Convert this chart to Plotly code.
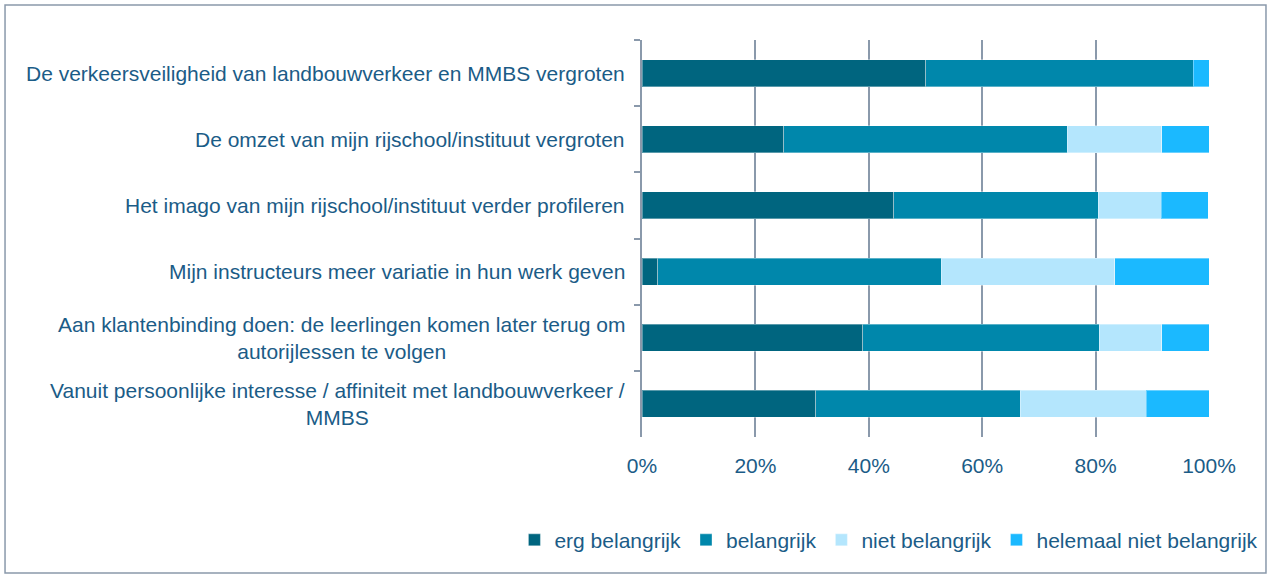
import plotly.graph_objects as go

categories = [
    "De verkeersveiligheid van landbouwverkeer en MMBS vergroten",
    "De omzet van mijn rijschool/instituut vergroten",
    "Het imago van mijn rijschool/instituut verder profileren",
    "Mijn instructeurs meer variatie in hun werk geven",
    "Aan klantenbinding doen: de leerlingen komen later terug om<br>autorijlessen te volgen",
    "Vanuit persoonlijke interesse / affiniteit met landbouwverkeer /<br>MMBS",
]
category_keys = ["c1", "c2", "c3", "c4", "c5", "c6"]

series_names = ["erg belangrijk", "belangrijk", "niet belangrijk", "helemaal niet belangrijk"]
erg_belangrijk = [50.0, 25.0, 44.4, 2.8, 38.9, 30.6]
belangrijk = [47.2, 50.0, 36.1, 50.0, 41.7, 36.1]
niet_belangrijk = [0.0, 16.7, 11.1, 30.6, 11.1, 22.2]
helemaal_niet_belangrijk = [2.8, 8.3, 8.3, 16.7, 8.3, 11.1]

tick_values = [0, 20, 40, 60, 80, 100]
tick_labels = ["0%", "20%", "40%", "60%", "80%", "100%"]

colors = ["#00657F", "#0087AB", "#B4E6FD", "#1BB9FF"]
text_color = "#1B5C87"
grid_color = "#8A99AB"
font_size = 21

fig = go.Figure()
for name, vals, col in zip(series_names,
                           [erg_belangrijk, belangrijk, niet_belangrijk, helemaal_niet_belangrijk],
                           colors):
    fig.add_trace(go.Bar(
        y=category_keys, x=vals, name=name, orientation="h",
        marker=dict(color=col, line=dict(color="rgba(255,255,255,0.35)", width=1)),
    ))

# category labels, right-aligned block with centred lines
for key, label in zip(category_keys, categories):
    fig.add_annotation(
        x=-0.026, xref="paper", y=key, yref="y",
        text=label, showarrow=False, xanchor="right", yanchor="middle",
        align="center", font=dict(size=font_size, color=text_color),
    )

# outer frame
fig.add_shape(type="rect", xref="paper", yref="paper",
              x0=-1.1234, x1=1.1005, y0=-0.3426, y1=1.0882,
              line=dict(color=grid_color, width=1.5))

fig.update_layout(
    barmode="stack",
    bargap=0.59,
    width=1271, height=578,
    margin=dict(l=642, r=62, t=40, b=141),
    paper_bgcolor="white", plot_bgcolor="white",
    font=dict(family="Liberation Sans, Arial, sans-serif", size=font_size, color=text_color),
    xaxis=dict(
        range=[0, 100], tickvals=tick_values, ticktext=tick_labels,
        showgrid=True, gridcolor=grid_color, gridwidth=1.5,
        zeroline=False, showline=False, ticks="",
        ticklabelstandoff=14,
        tickfont=dict(size=font_size, color=text_color),
    ),
    yaxis=dict(
        type="category", autorange="reversed", showticklabels=False,
        showline=True, linecolor=grid_color, linewidth=1.5,
        ticks="outside", ticklen=6, tickcolor=grid_color, tickwidth=1.5,
        tickson="boundaries", showgrid=False,
    ),
    legend=dict(
        orientation="h", x=-0.225, xanchor="left", y=-0.26, yanchor="middle",
        font=dict(size=font_size, color=text_color), traceorder="normal",
        itemwidth=30,
    ),
)

fig.write_html("out.html")
